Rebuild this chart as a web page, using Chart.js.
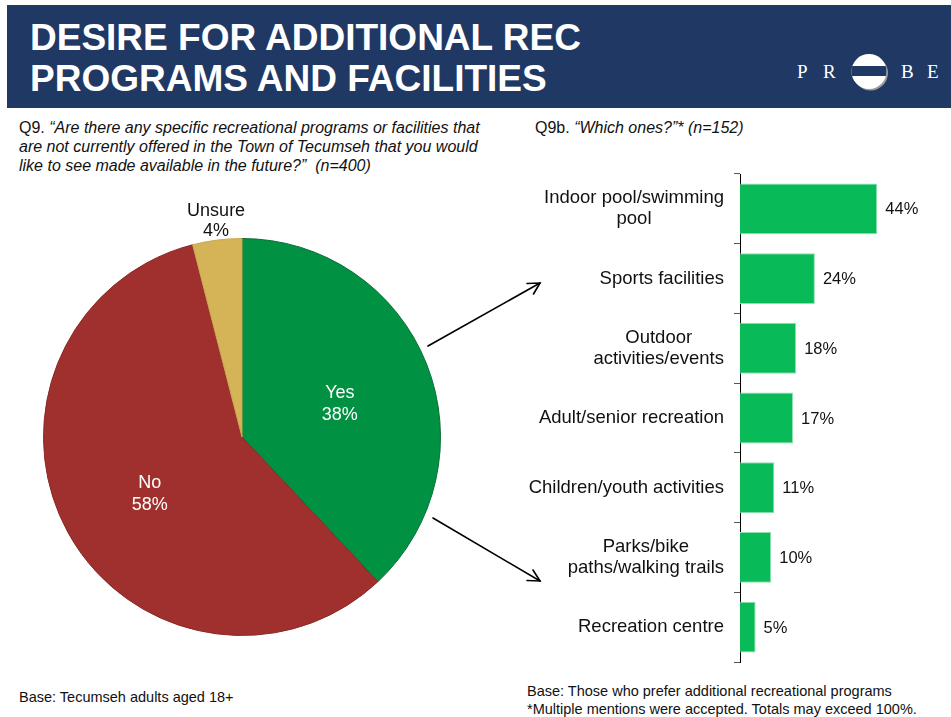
<!DOCTYPE html>
<html>
<head>
<meta charset="utf-8">
<script src="https://cdn.jsdelivr.net/npm/chart.js@4/dist/chart.umd.min.js"></script>
<style>
  html, body { margin:0; padding:0; background:#fff; }
  body { width:951px; height:717px; position:relative; overflow:hidden; font-family:"Liberation Sans", Arial, sans-serif; color:#111; }
  .abs { position:absolute; white-space:nowrap; }
  #band { left:7px; top:5px; width:944px; height:103px; background:#1F3864; }
  #title { left:30px; top:17px; font-weight:bold; font-size:37px; line-height:41px; color:#fff; }
  .sub { font-size:16px; line-height:19px; color:#111; }
  .foot { font-size:14.5px; line-height:18px; color:#111; }
  canvas { position:absolute; }
</style>
</head>
<body>
<div id="band" class="abs"></div>
<div id="title" class="abs">DESIRE FOR ADDITIONAL REC<br>PROGRAMS AND FACILITIES</div>
<svg class="abs" style="left:780px;top:40px" width="171" height="70" viewBox="0 0 171 70">
  <defs>
    <clipPath id="cc"><circle cx="89" cy="31.5" r="17.5"/></clipPath>
  </defs>
  <text x="17" y="38" fill="#fff" font-family="Liberation Serif, Times New Roman, serif" font-size="19">P</text>
  <text x="43" y="38" fill="#fff" font-family="Liberation Serif, Times New Roman, serif" font-size="19">R</text>
  <circle cx="90.5" cy="33" r="17.5" fill="#9a9a9a"/>
  <circle cx="89" cy="31.5" r="17.5" fill="#fff"/>
  <rect x="70" y="26" width="40" height="10" fill="#1F3864" clip-path="url(#cc)"/>
  <text x="121" y="38" fill="#fff" font-family="Liberation Serif, Times New Roman, serif" font-size="19">B</text>
  <text x="147" y="38" fill="#fff" font-family="Liberation Serif, Times New Roman, serif" font-size="19">E</text>
</svg>

<div class="abs sub" style="left:19px;top:118px;">Q9. <i>“Are there any specific recreational programs or facilities that<br>are not currently offered in the Town of Tecumseh that you would<br>like to see made available in the future?”&nbsp; (n=400)</i></div>
<div class="abs sub" style="left:535px;top:118px;">Q9b. <i>“Which ones?”* (n=152)</i></div>

<div class="abs foot" style="left:19px;top:688px;">Base: Tecumseh adults aged 18+</div>
<div class="abs foot" style="left:527px;top:682px;">Base: Those who prefer additional recreational programs<br>*Multiple mentions were accepted. Totals may exceed 100%.</div>

<canvas id="pie" style="left:0px;top:190px;" width="484" height="494"></canvas>
<canvas id="bar" style="left:500px;top:160px;" width="451" height="520"></canvas>

<svg class="abs" style="left:0;top:0;pointer-events:none" width="951" height="717">
  <g stroke="#000" stroke-width="1.6" fill="none" stroke-linecap="round">
    <line x1="428" y1="346" x2="540" y2="283"/>
    <polyline points="527,283.5 540,283 533.5,294"/>
    <line x1="433" y1="518" x2="540" y2="581"/>
    <polyline points="533,570 540,581 527,580.5"/>
  </g>
</svg>

<script>
// ---- data ----
const pieLabels = ['Yes', 'No', 'Unsure'];
const pieValues = [38, 58, 4];
const pieColors = ['#009142', '#A0302E', '#D4B457'];
const pieLabelColors = ['#ffffff', '#ffffff', '#111111'];

const barCategories = [
  ['Indoor pool/swimming', 'pool'],
  ['Sports facilities'],
  ['Outdoor', 'activities/events'],
  ['Adult/senior recreation'],
  ['Children/youth activities'],
  ['Parks/bike', 'paths/walking trails'],
  ['Recreation centre']
];
const barValues = [44, 24, 18, 17, 11, 10, 5];

const FONT = '"Liberation Sans", Arial, sans-serif';

// ---- pie labels plugin ----
const pieLabelPlugin = {
  id: 'pieLabels',
  afterDatasetsDraw(chart) {
    const ctx = chart.ctx;
    const meta = chart.getDatasetMeta(0);
    ctx.save();
    ctx.font = '18px ' + FONT;
    ctx.textAlign = 'center';
    ctx.textBaseline = 'middle';
    meta.data.forEach((arc, i) => {
      const p = arc.getProps(['x', 'y', 'startAngle', 'endAngle', 'outerRadius'], true);
      const mid = (p.startAngle + p.endAngle) / 2;
      const pct = pieValues[i] + '%';
      ctx.fillStyle = pieLabelColors[i];
      if (pieValues[i] < 10) {
        const r = p.outerRadius + 8;
        const x = p.x + Math.cos(mid) * r;
        const y = p.y + Math.sin(mid) * r;
        ctx.fillText(pct, x, y - 1);
        ctx.fillText(pieLabels[i], x, y - 21);
      } else {
        const r = p.outerRadius * 0.53;
        const x = p.x + Math.cos(mid) * r;
        const y = p.y + Math.sin(mid) * r + 6;
        ctx.fillText(pieLabels[i], x, y - 11);
        ctx.fillText(pct, x, y + 11);
      }
    });
    ctx.restore();
  }
};

new Chart(document.getElementById('pie'), {
  type: 'pie',
  data: {
    labels: pieLabels,
    datasets: [{
      data: pieValues,
      backgroundColor: pieColors,
      borderColor: ['#0b6e36', '#8a2826', '#c9a94f'],
      borderWidth: 1
    }]
  },
  options: {
    responsive: false,
    animation: false,
    layout: { padding: { left: 43, right: 43, top: 48, bottom: 48 } },
    plugins: { legend: { display: false }, tooltip: { enabled: false } }
  },
  plugins: [pieLabelPlugin]
});

// ---- bar labels plugin ----
const barLabelPlugin = {
  id: 'barLabels',
  afterDatasetsDraw(chart) {
    const ctx = chart.ctx;
    const yScale = chart.scales.y;
    const meta = chart.getDatasetMeta(0);
    ctx.save();
    ctx.fillStyle = '#111';
    ctx.textBaseline = 'middle';
    // value labels
    ctx.font = '16.5px ' + FONT;
    ctx.textAlign = 'left';
    meta.data.forEach((bar, i) => {
      ctx.fillText(barValues[i] + '%', bar.x + 8, bar.y + 1);
    });
    // category labels: block right-aligned, lines centered
    ctx.font = '18.5px ' + FONT;
    ctx.textAlign = 'center';
    const rightEdge = yScale.left - 10;
    const lh = 21;
    barCategories.forEach((lines, i) => {
      const cy = yScale.getPixelForValue(i);
      const w = Math.max(...lines.map(l => ctx.measureText(l).width));
      const cx = rightEdge - w / 2;
      const y0 = cy - (lines.length - 1) * lh / 2;
      lines.forEach((l, j) => ctx.fillText(l, cx, y0 + j * lh));
    });
    ctx.restore();
  }
};

new Chart(document.getElementById('bar'), {
  type: 'bar',
  data: {
    labels: barCategories.map(l => l.join(' ')),
    datasets: [{
      data: barValues,
      backgroundColor: '#08BB58',
      borderColor: '#8fdfb0',
      borderWidth: 1,
      categoryPercentage: 1.0,
      barPercentage: 0.73
    }]
  },
  options: {
    indexAxis: 'y',
    responsive: false,
    animation: false,
    layout: { padding: { left: 234, right: 55, top: 14, bottom: 18 } },
    plugins: { legend: { display: false }, tooltip: { enabled: false } },
    scales: {
      x: { display: false, min: 0, max: 50 },
      y: {
        ticks: { display: false },
        grid: { drawOnChartArea: false, drawTicks: true, tickLength: 6, color: '#555', offset: true },
        border: { display: true, color: '#000', width: 1 }
      }
    }
  },
  plugins: [barLabelPlugin]
});
</script>
</body>
</html>
